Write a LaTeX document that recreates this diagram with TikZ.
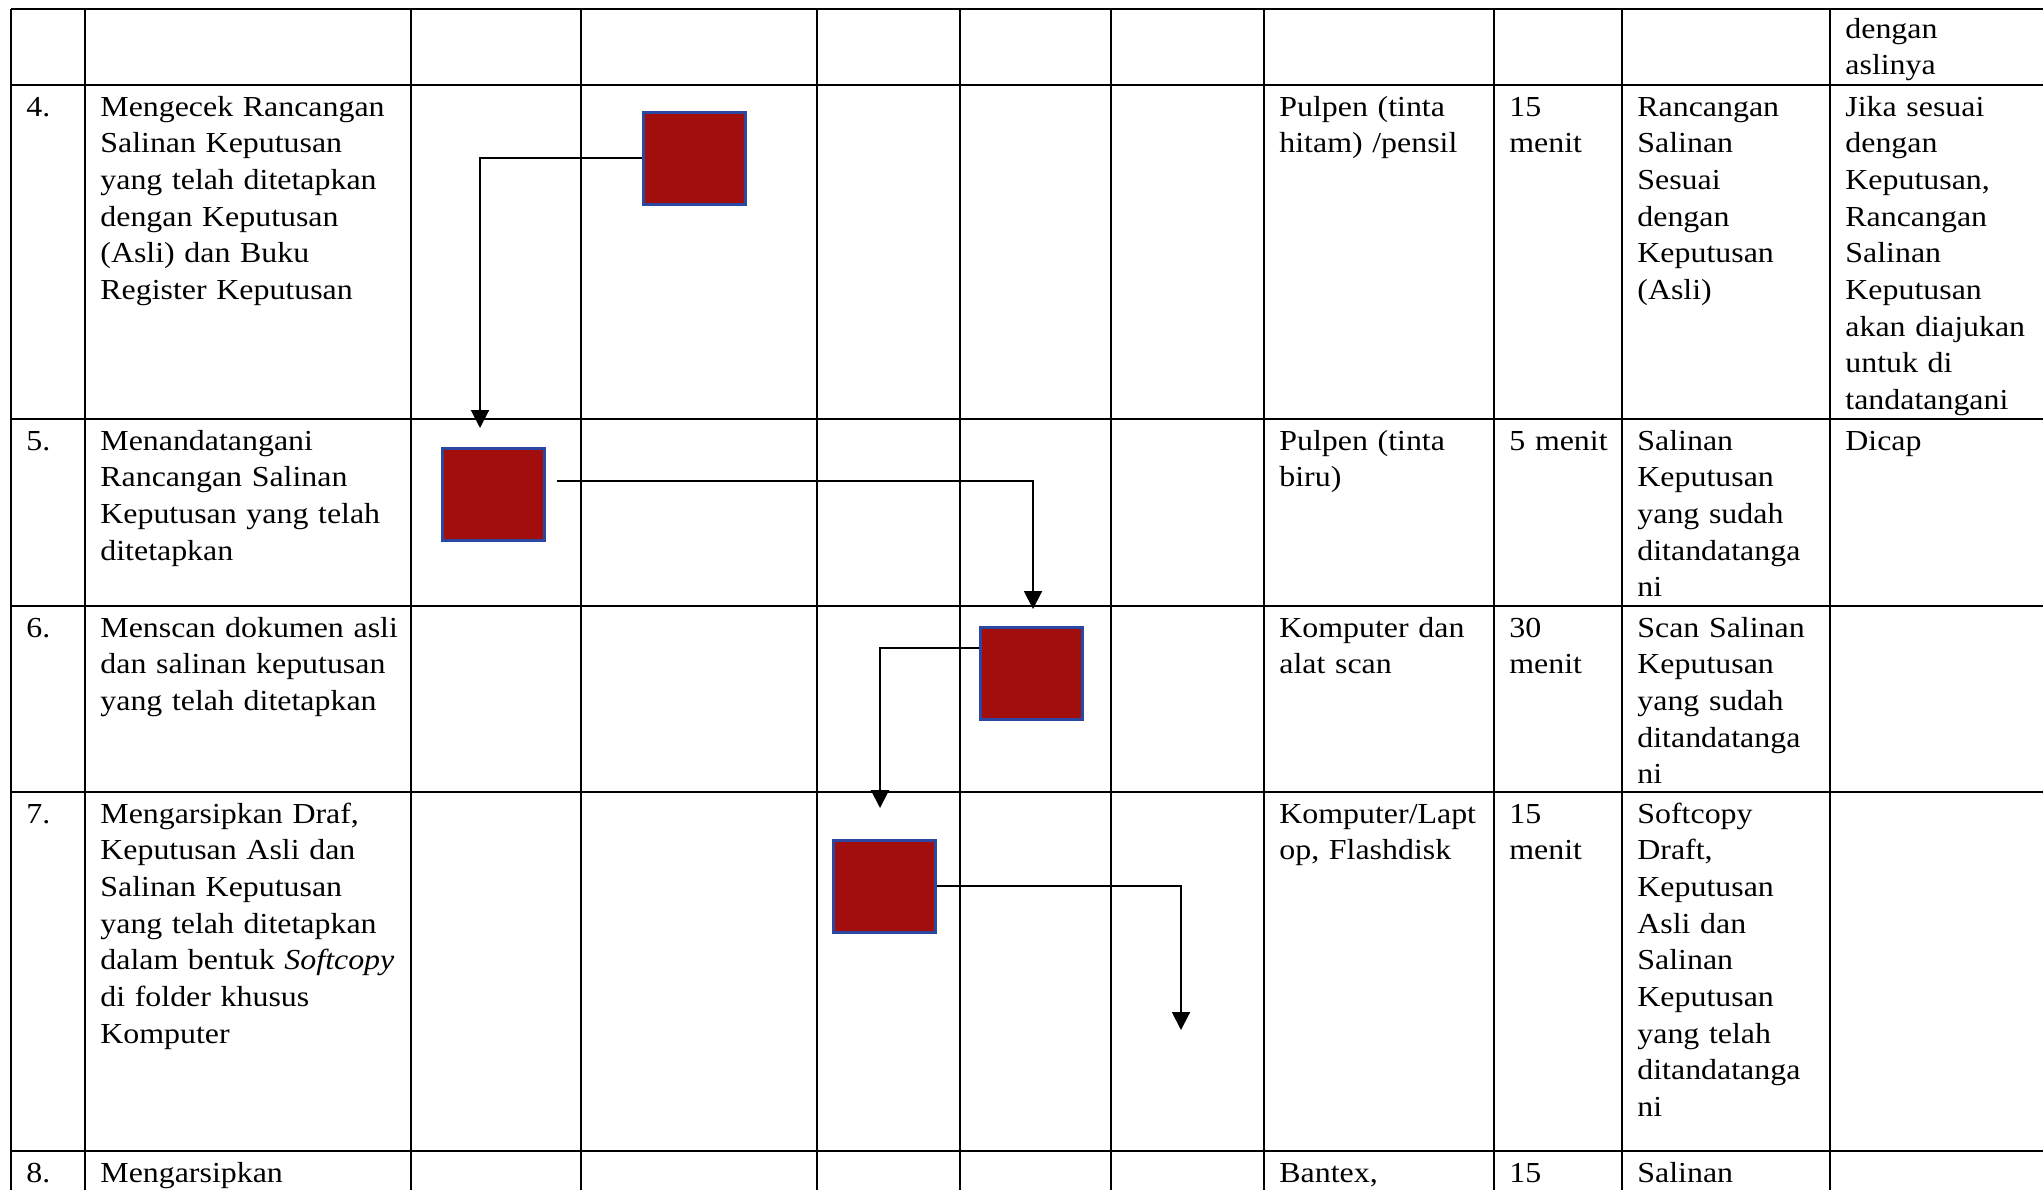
\documentclass[tikz,border=0pt]{standalone}
\usepackage{fontspec}
\setmainfont[FakeStretch=1.1]{Liberation Serif}
\usetikzlibrary{arrows.meta}
\definecolor{boxRed}{HTML}{A20E0E}
\definecolor{boxBlue}{HTML}{2B47A0}
\newcommand{\sopfont}{\fontsize{14.5}{18.35}\selectfont}

\begin{document}
\begin{tikzpicture}[x=0.5pt,y=-0.5pt,
  sopcell/.style={anchor=base west,align=left,text width=175pt,inner sep=0pt,font=\sopfont},
  sopbox/.style={draw=boxBlue,line width=1.5pt,fill=boxRed,minimum width=51pt,minimum height=46pt,inner sep=0pt},
  flow/.style={line width=1pt,-{Triangle[width=9pt,length=9pt]}}]
\useasboundingbox (0,0) rectangle (2043,1190);
%% table grid
\draw[line width=1.1pt] (11,9) -- (2043,9);
\draw[line width=1.1pt] (11,85) -- (2043,85);
\draw[line width=1.1pt] (11,419) -- (2043,419);
\draw[line width=1.1pt] (11,606) -- (2043,606);
\draw[line width=1.1pt] (11,792) -- (2043,792);
\draw[line width=1.1pt] (11,1151) -- (2043,1151);

\draw[line width=1.1pt] (11,9) -- (11,1190);
\draw[line width=1.1pt] (85,9) -- (85,1190);
\draw[line width=1.1pt] (411,9) -- (411,1190);
\draw[line width=1.1pt] (581,9) -- (581,1190);
\draw[line width=1.1pt] (817,9) -- (817,1190);
\draw[line width=1.1pt] (960,9) -- (960,1190);
\draw[line width=1.1pt] (1111,9) -- (1111,1190);
\draw[line width=1.1pt] (1264,9) -- (1264,1190);
\draw[line width=1.1pt] (1494,9) -- (1494,1190);
\draw[line width=1.1pt] (1622,9) -- (1622,1190);
\draw[line width=1.1pt] (1830,9) -- (1830,1190);

%the cells
\node[sopcell] (ketTop) at (1845,38) {dengan\\aslinya};

\node[sopcell] (noCek) at (26,116) {4.};
\node[sopcell] (stepCek) at (100,116) {Mengecek Rancangan\\Salinan Keputusan\\yang telah ditetapkan\\dengan Keputusan\\(Asli) dan Buku\\Register Keputusan};
\node[sopcell] (alatCek) at (1279,116) {Pulpen (tinta\\hitam) /pensil};
\node[sopcell] (waktuCek) at (1509,116) {15\\menit};
\node[sopcell] (hasilCek) at (1637,116) {Rancangan\\Salinan\\Sesuai\\dengan\\Keputusan\\(Asli)};
\node[sopcell] (ketCek) at (1845,116) {Jika sesuai\\dengan\\Keputusan,\\Rancangan\\Salinan\\Keputusan\\akan diajukan\\untuk di\\tandatangani};

\node[sopcell] (noTtd) at (26,450) {5.};
\node[sopcell] (stepTtd) at (100,450) {Menandatangani\\Rancangan Salinan\\Keputusan yang telah\\ditetapkan};
\node[sopcell] (alatTtd) at (1279,450) {Pulpen (tinta\\biru)};
\node[sopcell] (waktuTtd) at (1509,450) {5 menit};
\node[sopcell] (hasilTtd) at (1637,450) {Salinan\\Keputusan\\yang sudah\\ditandatanga\\ni};
\node[sopcell] (ketTtd) at (1845,450) {Dicap};

\node[sopcell] (noScan) at (26,637) {6.};
\node[sopcell] (stepScan) at (100,637) {Menscan dokumen asli\\dan salinan keputusan\\yang telah ditetapkan};
\node[sopcell] (alatScan) at (1279,637) {Komputer dan\\alat scan};
\node[sopcell] (waktuScan) at (1509,637) {30\\menit};
\node[sopcell] (hasilScan) at (1637,637) {Scan Salinan\\Keputusan\\yang sudah\\ditandatanga\\ni};

\node[sopcell] (noArsip) at (26,823) {7.};
\node[sopcell] (stepArsip) at (100,823) {Mengarsipkan Draf,\\Keputusan Asli dan\\Salinan Keputusan\\yang telah ditetapkan\\dalam bentuk \textit{Softcopy}\\di folder khusus\\Komputer};
\node[sopcell] (alatArsip) at (1279,823) {Komputer/Lapt\\op, Flashdisk};
\node[sopcell] (waktuArsip) at (1509,823) {15\\menit};
\node[sopcell] (hasilArsip) at (1637,823) {Softcopy\\Draft,\\Keputusan\\Asli dan\\Salinan\\Keputusan\\yang telah\\ditandatanga\\ni};

\node[sopcell] (noBantex) at (26,1182) {8.};
\node[sopcell] (stepBantex) at (100,1182) {Mengarsipkan};
\node[sopcell] (alatBantex) at (1279,1182) {Bantex,};
\node[sopcell] (waktuBantex) at (1509,1182) {15};
\node[sopcell] (hasilBantex) at (1637,1182) {Salinan};

%the boxes
\node[sopbox] (boxCek) at (694.5,158) {};
\node[sopbox] (boxTtd) at (493,494.5) {};
\node[sopbox] (boxScan) at (1031.5,673.5) {};
\node[sopbox] (boxArsip) at (884.5,886) {};

\coordinate (tipTtd) at (480,428);
\coordinate (tipScan) at (1033,609);
\coordinate (tipArsip) at (880,808);
\coordinate (tipNext) at (1181,1030);

%drawings of arrows
\draw[flow] (boxCek.west) -| (tipTtd);
\draw[flow] ([xshift=5.5pt,yshift=7pt]boxTtd.east) -| (tipScan);
\draw[flow] ([yshift=13pt]boxScan.west) -| (tipArsip);
\draw[flow] (boxArsip.east) -| (tipNext);
\end{tikzpicture}
\end{document}
